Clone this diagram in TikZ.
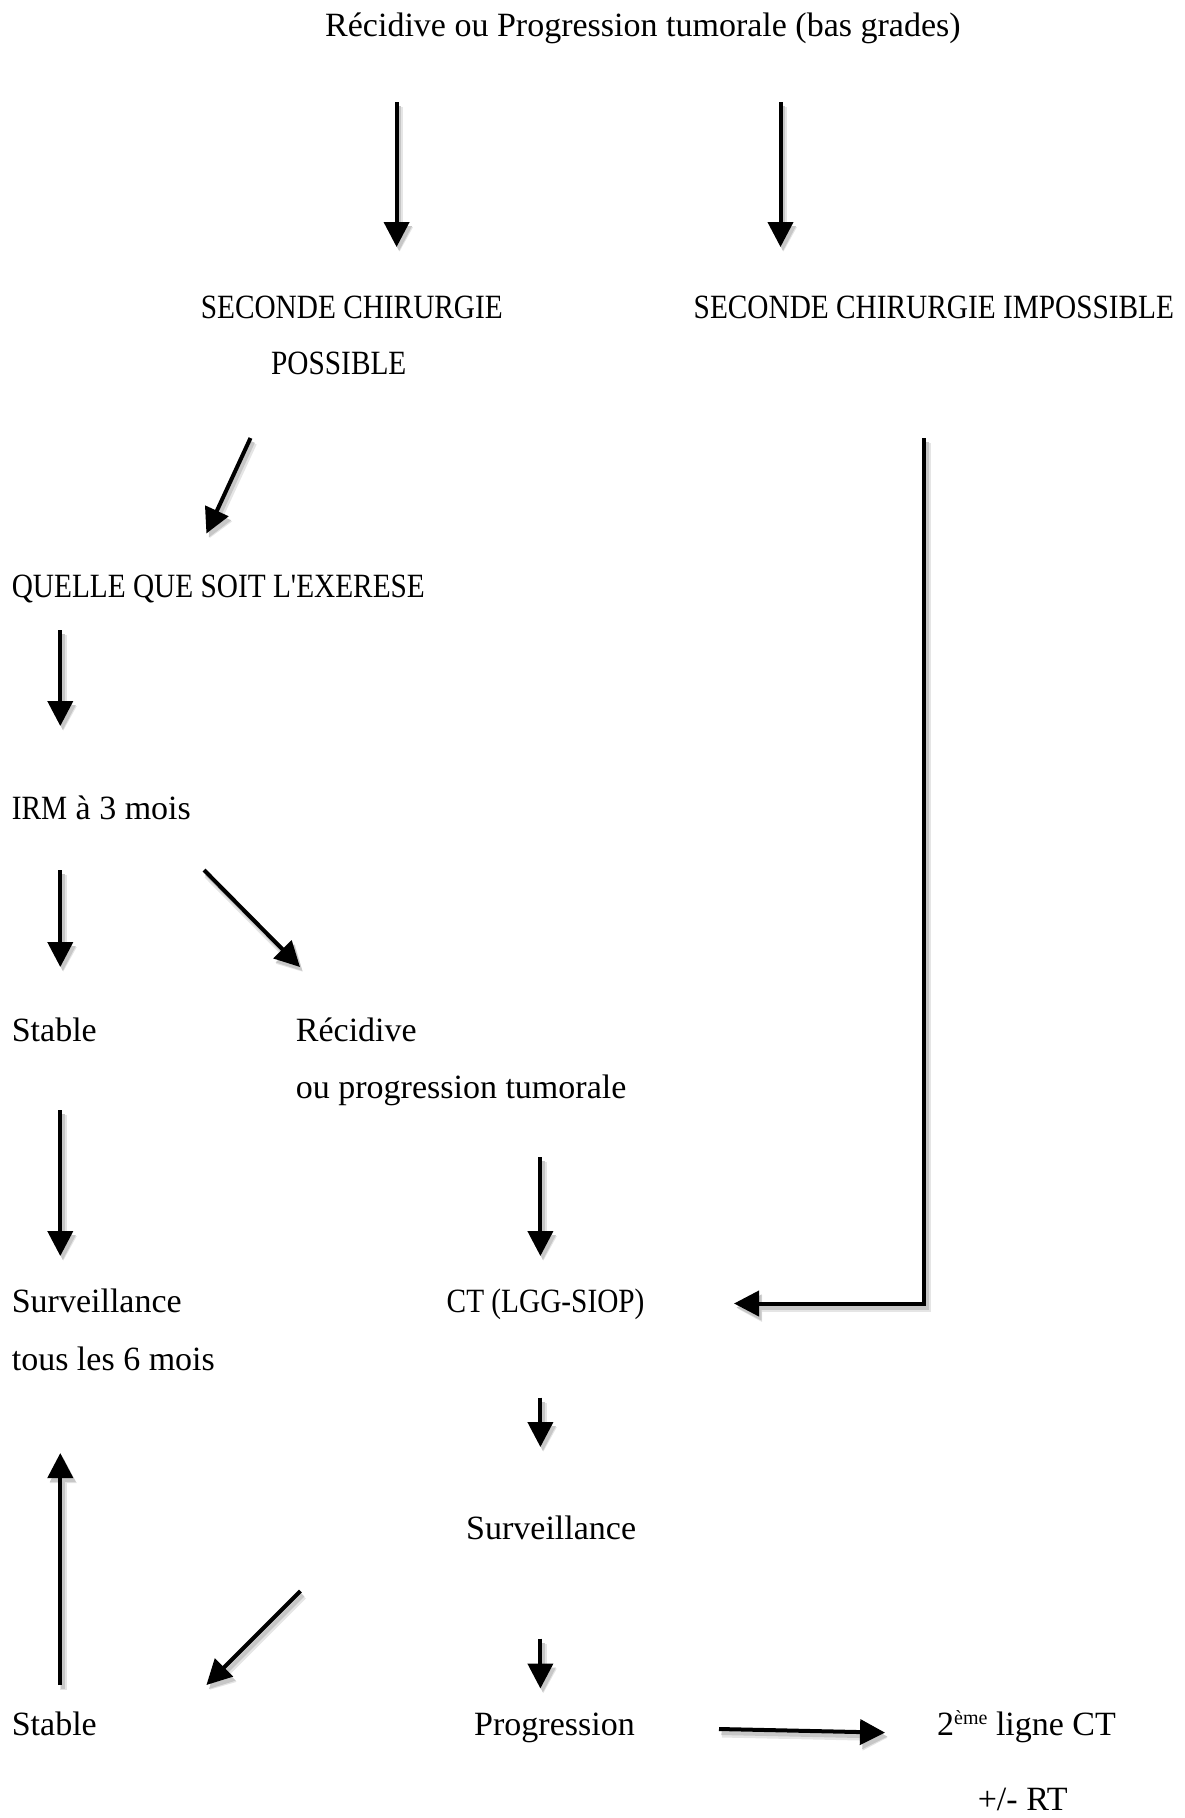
\documentclass[tikz,border=0pt]{standalone}
\usepackage{fontspec}
\setmainfont{Liberation Serif}
\newfontfamily\capsfont[FakeStretch=0.862]{Liberation Serif}
\usetikzlibrary{arrows.meta}
\begin{document}
\begin{tikzpicture}[x=1pt,y=-1pt,
  txt/.style={anchor=base west, inner sep=0pt, font=\fontsize{34}{40}\selectfont},
  arr/.style={line width=4pt, -{Triangle[length=25pt,width=25pt]}},
  shadowA/.style={arr, draw=black!10, line width=7pt, transform canvas={shift={(3,5)}}},
  shadowB/.style={arr, draw=black!22, transform canvas={shift={(2.5,4)}}}]
\newcommand\myarrow[1]{\draw[shadowA] #1; \draw[shadowB] #1; \draw[arr] #1;}
\useasboundingbox (0,0) rectangle (1184,1818);
% texts
\node[txt] (title) at (325,36) {Récidive ou Progression tumorale (bas grades)};
\node[txt] (poss1) at (200.6,318) {\capsfont SECONDE CHIRURGIE};
\node[txt] (poss2) at (271,374) {\capsfont POSSIBLE};
\node[txt] (imposs) at (693.5,318) {\capsfont SECONDE CHIRURGIE IMPOSSIBLE};
\node[txt] (quelle) at (11.6,597) {\capsfont QUELLE QUE SOIT L'EXERESE};
\node[txt] (irm) at (11.6,819) {{\capsfont IRM} à 3 mois};
\node[txt] (stable1) at (11.6,1041) {Stable};
\node[txt] (recid1) at (295.7,1041) {Récidive};
\node[txt] (recid2) at (295.7,1098) {ou progression tumorale};
\node[txt] (surv1a) at (11.6,1312) {Surveillance};
\node[txt] (surv1b) at (11.6,1370) {tous les 6 mois};
\node[txt] (ct) at (446.5,1312) {\capsfont CT (LGG-SIOP)};
\node[txt] (surv2) at (466,1539.5) {Surveillance};
\node[txt] (stable2) at (11.6,1735.5) {Stable};
\node[txt] (prog) at (474,1735.5) {Progression};
\node[txt] (ligne) at (937,1735.5) {2\raisebox{11pt}{\fontsize{20}{20}\selectfont ème} ligne CT};
\node[txt] (rt) at (977.6,1810) {+/- RT};
% arrow endpoints
\coordinate (a1s) at (396.6,102);  \coordinate (a1e) at (396.6,247);
\coordinate (a2s) at (780.5,102);  \coordinate (a2e) at (780.5,247);
\coordinate (a3s) at (250.5,438);  \coordinate (a3e) at (206.4,533.5);
\coordinate (a4s) at (60.3,630);   \coordinate (a4e) at (60.3,726);
\coordinate (a5s) at (60.3,870);   \coordinate (a5e) at (60.3,967);
\coordinate (a6s) at (204,870);    \coordinate (a6e) at (300,967);
\coordinate (a7s) at (60.3,1110);  \coordinate (a7e) at (60.3,1256);
\coordinate (a8s) at (540.4,1157); \coordinate (a8e) at (540.4,1256);
\coordinate (a9s) at (924.3,438);  \coordinate (a9c) at (924.3,1303.5); \coordinate (a9e) at (734,1303.5);
\coordinate (a10s) at (540.4,1397.5); \coordinate (a10e) at (540.4,1447);
\coordinate (a11s) at (60.3,1685);  \coordinate (a11e) at (60.3,1453);
\coordinate (a12s) at (300.4,1591); \coordinate (a12e) at (206.4,1685);
\coordinate (a13s) at (540.4,1638.7); \coordinate (a13e) at (540.4,1688.5);
\coordinate (a14s) at (719,1729);   \coordinate (a14e) at (885,1732.6);
% arrows
\myarrow{(a1s) -- (a1e)}
\myarrow{(a2s) -- (a2e)}
\myarrow{(a3s) -- (a3e)}
\myarrow{(a4s) -- (a4e)}
\myarrow{(a5s) -- (a5e)}
\myarrow{(a6s) -- (a6e)}
\myarrow{(a7s) -- (a7e)}
\myarrow{(a8s) -- (a8e)}
\myarrow{(a9s) -- (a9c) -- (a9e)}
\myarrow{(a10s) -- (a10e)}
\myarrow{(a11s) -- (a11e)}
\myarrow{(a12s) -- (a12e)}
\myarrow{(a13s) -- (a13e)}
\myarrow{(a14s) -- (a14e)}
\end{tikzpicture}
\end{document}
